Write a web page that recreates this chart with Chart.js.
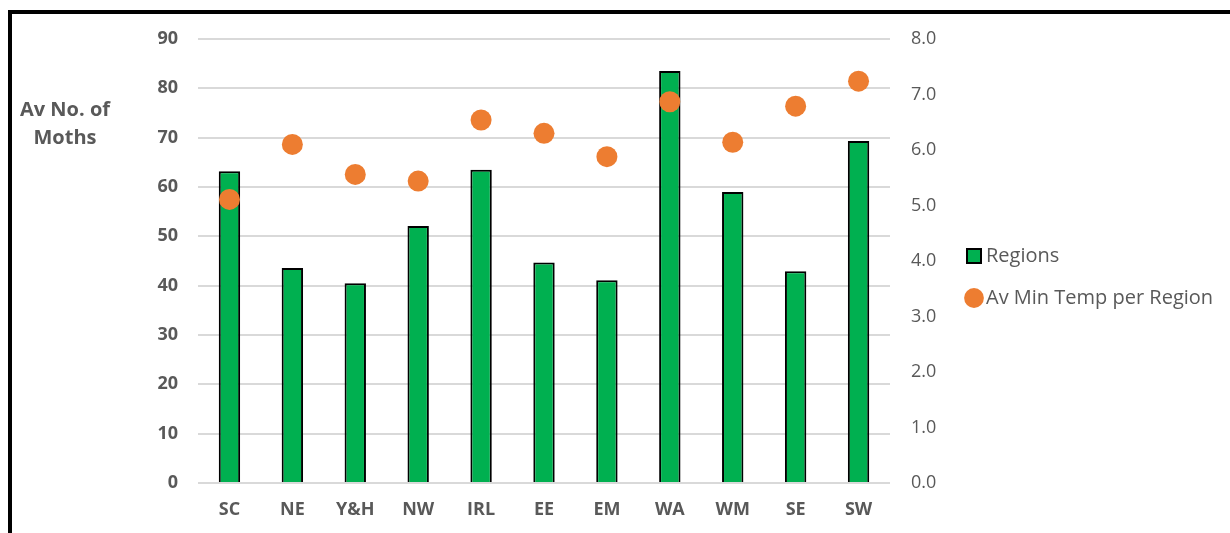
<!DOCTYPE html>
<html>
<head>
<meta charset="utf-8">
<script src="https://cdn.jsdelivr.net/npm/chart.js@4.4.0/dist/chart.umd.min.js"></script>
<style>
  html, body { margin: 0; padding: 0; background: #ffffff; overflow: hidden; }
  #frame {
    position: absolute; left: 8px; top: 10px;
    width: 1400px; height: 700px;
    border: 4px solid #000000;
    box-sizing: border-box;
  }
  #wrap { position: absolute; left: 0; top: 0; width: 1230px; height: 533px; }
</style>
</head>
<body>
<div id="frame"></div>
<div id="wrap"><canvas id="chart" width="1230" height="533"></canvas></div>
<script>
// Regions and their averages
const regions = ['SC', 'NE', 'Y&H', 'NW', 'IRL', 'EE', 'EM', 'WA', 'WM', 'SE', 'SW'];
const mothCounts = [63.2, 43.6, 40.5, 52.1, 63.5, 44.7, 41.1, 83.5, 59.0, 42.9, 69.3];
const minTemps = [5.11, 6.10, 5.56, 5.44, 6.54, 6.30, 5.88, 6.87, 6.14, 6.79, 7.24];

const seriesNames = ['Regions', 'Av Min Temp per Region'];
const yTitleLines = ['Av No. of', 'Moths'];

const FONT = '"Open Sans", "Liberation Sans", sans-serif';
const GREY = '#595959';

// Horizontal two-line title beside the left axis
const sideTitle = {
  id: 'sideTitle',
  afterDraw(chart) {
    const ctx = chart.ctx;
    ctx.save();
    ctx.fillStyle = GREY;
    ctx.font = 'bold 20px ' + FONT;
    ctx.textAlign = 'center';
    ctx.textBaseline = 'middle';
    ctx.fillText(yTitleLines[0], 65, 110);
    ctx.fillText(yTitleLines[1], 65, 138);
    ctx.restore();
  }
};

// Let the right-hand legend use the full remaining width for its long label
const wideLegend = {
  id: 'wideLegend',
  afterLayout(chart) {
    const lg = chart.legend;
    if (lg) {
      lg.right = chart.width;
      lg.width = lg.right - lg.left;
    }
  }
};

new Chart(document.getElementById('chart'), {
  data: {
    labels: regions,
    datasets: [
      {
        type: 'bar',
        label: seriesNames[0],
        data: mothCounts,
        yAxisID: 'y',
        backgroundColor: '#00b050',
        borderColor: '#000000',
        borderWidth: 2,
        borderSkipped: 'bottom',
        barPercentage: 0.34,
        categoryPercentage: 1,
        pointStyle: 'rect',
        order: 2
      },
      {
        type: 'line',
        label: seriesNames[1],
        data: minTemps,
        yAxisID: 'y1',
        showLine: false,
        backgroundColor: '#ed7d31',
        borderColor: '#ed7d31',
        borderWidth: 0,
        pointBackgroundColor: '#ed7d31',
        pointBorderWidth: 0,
        pointRadius: 10.5,
        pointHoverRadius: 10.5,
        pointStyle: 'circle',
        order: 1
      }
    ]
  },
  options: {
    responsive: false,
    animation: false,
    events: [],
    layout: { padding: { top: 39, right: 90, bottom: 18, left: 0 } },
    plugins: {
      tooltip: { enabled: false },
      legend: {
        position: 'right',
        labels: {
          usePointStyle: true,
          boxWidth: 4,
          boxHeight: 14,
          padding: 22,
          color: GREY,
          font: { family: FONT, size: 20 },
          sort: (a, b) => a.datasetIndex - b.datasetIndex
        }
      }
    },
    scales: {
      x: {
        grid: { display: false, drawTicks: false },
        border: { display: false },
        ticks: { color: GREY, padding: 16, font: { family: FONT, size: 18, weight: 'bold' } },
        afterFit(s) { s.height = 32; }
      },
      y: {
        position: 'left',
        min: 0, max: 90,
        ticks: { stepSize: 10, color: GREY, padding: 20, font: { family: FONT, size: 18, weight: 'bold' } },
        grid: { color: '#d9d9d9', lineWidth: 2, drawTicks: false },
        border: { display: false },
        afterFit(s) { s.width = 198; }
      },
      y1: {
        position: 'right',
        min: 0, max: 8,
        ticks: {
          stepSize: 1, color: GREY, padding: 21,
          font: { family: FONT, size: 18 },
          callback: v => Number(v).toFixed(1)
        },
        grid: { display: false, drawTicks: false },
        border: { display: false },
        afterFit(s) { s.width = 60; }
      }
    }
  },
  plugins: [sideTitle, wideLegend]
});
</script>
</body>
</html>
